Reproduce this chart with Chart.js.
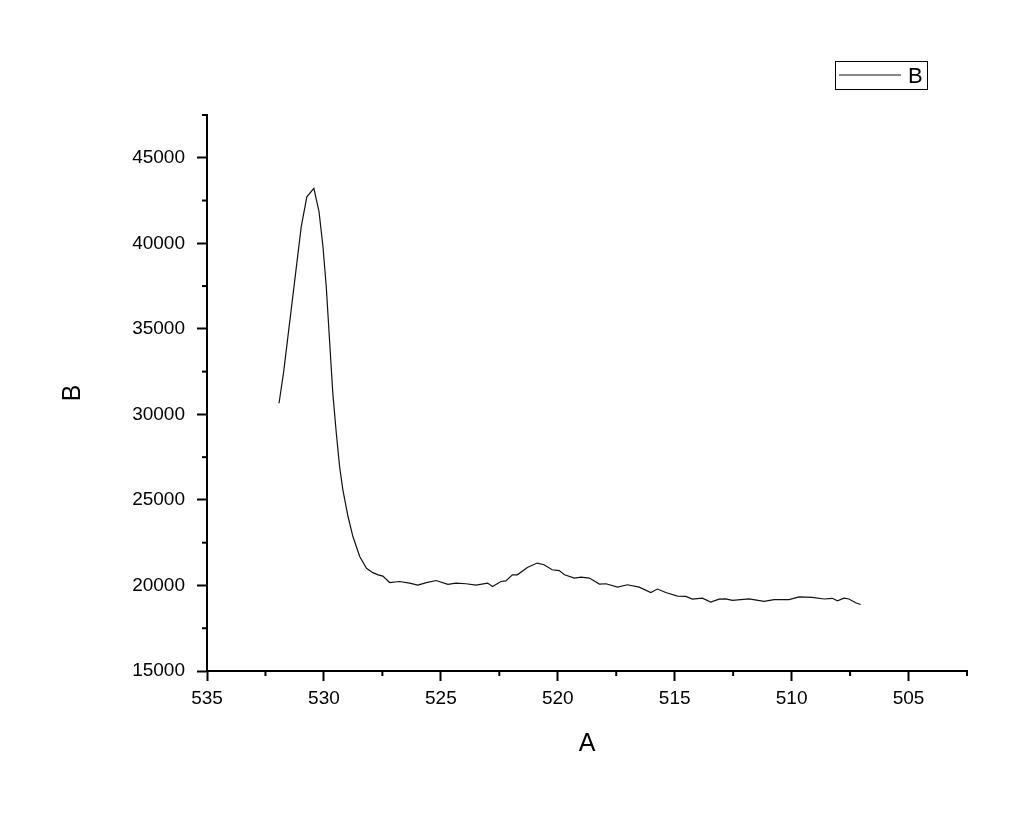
<!DOCTYPE html>
<html>
<head>
<meta charset="utf-8">
<script src="https://cdn.jsdelivr.net/npm/chart.js@4.4.1/dist/chart.umd.min.js"></script>
<style>
  html, body { margin: 0; padding: 0; background: #ffffff; }
  #wrap { width: 1024px; height: 816px; }
</style>
</head>
<body>
<div id="wrap"><canvas id="c" width="1024" height="816"></canvas></div>
<script>
// ---- data ----
const seriesLabel = 'B';
const xTitle = 'A';
const yTitle = 'B';

const xValues = [
  531.92, 531.72, 531.50, 531.25, 530.97, 530.73, 530.43, 530.21, 530.04, 529.90,
  529.76, 529.62, 529.47, 529.33, 529.19, 528.97, 528.76, 528.47, 528.18, 527.91,
  527.68, 527.48, 527.19, 526.77, 526.34, 525.98, 525.62, 525.20, 524.70, 524.35,
  523.92, 523.50, 523.00, 522.79, 522.43, 522.22, 521.94, 521.73, 521.30, 520.88,
  520.59, 520.24, 519.94, 519.71, 519.29, 519.00, 518.65, 518.22, 517.94, 517.44,
  517.02, 516.52, 516.02, 515.74, 515.38, 514.88, 514.53, 514.24, 513.82, 513.46,
  513.10, 512.82, 512.53, 511.82, 511.18, 510.75, 510.11, 509.68, 509.11, 508.61,
  508.26, 508.04, 507.76, 507.55, 507.26, 507.05
];
const yValues = [
  30650, 32500, 35000, 37800, 40970, 42720, 43210, 41850, 39800, 37460,
  34350, 31240, 28900, 26950, 25590, 24030, 22860, 21690, 21000, 20750,
  20620, 20550, 20170, 20230, 20140, 20020, 20170, 20290, 20060, 20140,
  20100, 20020, 20140, 19940, 20230, 20270, 20620, 20620, 21050, 21310,
  21210, 20920, 20870, 20625, 20430, 20490, 20430, 20080, 20100, 19900,
  20040, 19900, 19590, 19790, 19590, 19380, 19360, 19200, 19260, 19030,
  19200, 19220, 19130, 19210, 19070, 19170, 19170, 19330, 19300, 19210,
  19250, 19100, 19260, 19210, 18990, 18890
];

const xMin = 502.5, xMax = 535, xStep = 2.5, xMajor = 5;
const yMin = 15000, yMax = 47500, yStep = 2500, yMajor = 5000;

// ---- chart ----
const FONT = '"Liberation Sans", Arial, sans-serif';
const isMajor = (v, m) => Math.abs(v / m - Math.round(v / m)) < 1e-6;

const minorTicks = {
  id: 'minorTicks',
  afterDraw(chart) {
    const ctx = chart.ctx;
    const area = chart.chartArea;
    ctx.save();
    ctx.strokeStyle = '#000';
    ctx.lineWidth = 2;
    const xs = chart.scales.x;
    xs.ticks.forEach(t => {
      if (isMajor(t.value, xMajor)) return;
      const px = xs.getPixelForValue(t.value);
      ctx.beginPath();
      ctx.moveTo(px, area.bottom);
      ctx.lineTo(px, area.bottom + 5);
      ctx.stroke();
    });
    const ys = chart.scales.y;
    ys.ticks.forEach(t => {
      if (isMajor(t.value, yMajor)) return;
      const py = ys.getPixelForValue(t.value);
      ctx.beginPath();
      ctx.moveTo(area.left, py);
      ctx.lineTo(area.left - 5, py);
      ctx.stroke();
    });
    ctx.restore();
  }
};

const boxedLegend = {
  id: 'boxedLegend',
  afterDraw(chart) {
    const ctx = chart.ctx;
    const ds = chart.data.datasets[0];
    const bx = 835.5, by = 61.5, bw = 92, bh = 28;
    ctx.save();
    ctx.strokeStyle = '#000';
    ctx.lineWidth = 1;
    ctx.strokeRect(bx, by, bw, bh);
    ctx.strokeStyle = ds.borderColor;
    ctx.lineWidth = 1;
    ctx.beginPath();
    ctx.moveTo(839, by + 13.5);
    ctx.lineTo(901, by + 13.5);
    ctx.stroke();
    ctx.fillStyle = '#000';
    ctx.font = '22px ' + FONT;
    ctx.textAlign = 'left';
    ctx.textBaseline = 'middle';
    ctx.fillText(ds.label, 908, by + 15);
    ctx.restore();
  }
};

new Chart(document.getElementById('c'), {
  type: 'line',
  data: {
    datasets: [{
      label: seriesLabel,
      data: xValues.map((x, i) => ({ x: x, y: yValues[i] })),
      borderColor: '#111111',
      borderWidth: 1.2,
      pointRadius: 0,
      tension: 0,
      fill: false
    }]
  },
  options: {
    responsive: false,
    animation: false,
    devicePixelRatio: 1,
    layout: { padding: { left: 0, right: 57, top: 115, bottom: 0 } },
    plugins: { legend: { display: false }, tooltip: { enabled: false } },
    scales: {
      x: {
        type: 'linear',
        reverse: true,
        min: xMin, max: xMax,
        afterFit(s) { s.height = 145; },
        border: { display: true, color: '#000', width: 2 },
        grid: {
          drawOnChartArea: false,
          drawTicks: true,
          tickLength: 10,
          tickWidth: 2,
          tickColor: c => (c.tick && isMajor(c.tick.value, xMajor)) ? '#000' : 'rgba(0,0,0,0)'
        },
        ticks: {
          stepSize: xStep,
          autoSkip: false,
          maxRotation: 0,
          padding: 6,
          color: '#000',
          font: { family: FONT, size: 19 },
          callback: v => isMajor(v, xMajor) ? String(v) : ''
        },
        title: {
          display: true,
          text: xTitle,
          color: '#000',
          font: { family: FONT, size: 25 },
          padding: { top: 0, bottom: 57 }
        }
      },
      y: {
        type: 'linear',
        min: yMin, max: yMax,
        afterFit(s) { s.width = 207; },
        border: { display: true, color: '#000', width: 2 },
        grid: {
          drawOnChartArea: false,
          drawTicks: true,
          tickLength: 10,
          tickWidth: 2,
          tickColor: c => (c.tick && isMajor(c.tick.value, yMajor)) ? '#000' : 'rgba(0,0,0,0)'
        },
        ticks: {
          stepSize: yStep,
          autoSkip: false,
          padding: 12,
          color: '#000',
          font: { family: FONT, size: 19 },
          callback: v => isMajor(v, yMajor) ? String(v) : ''
        },
        title: {
          display: true,
          text: yTitle,
          color: '#000',
          font: { family: FONT, size: 25 },
          padding: { top: 58, bottom: 0 }
        }
      }
    }
  },
  plugins: [minorTicks, boxedLegend]
});
</script>
</body>
</html>
